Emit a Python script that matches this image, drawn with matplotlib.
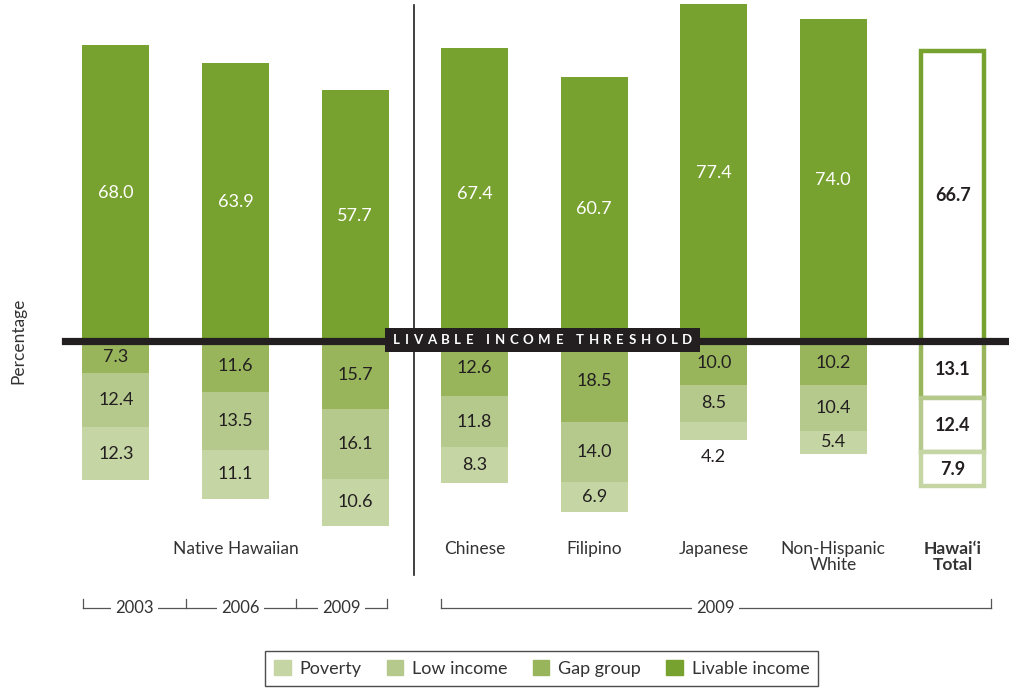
import matplotlib.pyplot as plt
from matplotlib.patches import Patch, Rectangle

plt.rcParams['font.family'] = ['Lato', 'DejaVu Sans']

# Data (percentages)
groups = ["Native Hawaiian 2003", "Native Hawaiian 2006", "Native Hawaiian 2009",
          "Chinese", "Filipino", "Japanese", "Non-Hispanic White", "Hawai\u2018i Total"]
livable = [68.0, 63.9, 57.7, 67.4, 60.7, 77.4, 74.0, 66.7]
gap = [7.3, 11.6, 15.7, 12.6, 18.5, 10.0, 10.2, 13.1]
low_income = [12.4, 13.5, 16.1, 11.8, 14.0, 8.5, 10.4, 12.4]
poverty = [12.3, 11.1, 10.6, 8.3, 6.9, 4.2, 5.4, 7.9]

cat_labels = ["", "Native Hawaiian", "", "Chinese", "Filipino", "Japanese",
              "Non-Hispanic\nWhite", "Hawai\u2018i\nTotal"]
nh_years = ["2003", "2006", "2009"]
other_year = "2009"
threshold_label = "LIVABLE INCOME THRESHOLD"

c_pov = "#c5d5a3"
c_low = "#b5c98d"
c_gap = "#98b55c"
c_liv = "#78a22f"
dark = "#231f20"

fig = plt.figure(figsize=(10.09, 6.93), dpi=100)
ax = fig.add_axes([0, 0, 1, 1])
ax.set_xlim(-0.97, 7.47)
ax.set_ylim(-80.9, 78.4)
ax.axis("off")

w = 0.56
x = list(range(len(groups)))
n_fill = len(groups) - 1  # last one (total) is drawn as outlines

for i in x:
    segs = [(0, livable[i], c_liv),
            (0, -gap[i], c_gap),
            (-gap[i], -low_income[i], c_low),
            (-gap[i] - low_income[i], -poverty[i], c_pov)]
    for bottom, h, col in segs:
        if i < n_fill:
            ax.bar(i, h, bottom=bottom, width=w, color=col, zorder=2)
        else:
            ax.bar(i, h, bottom=bottom, width=w - 0.03, facecolor="white",
                   edgecolor=col, linewidth=3.2, zorder=2)

    bold = "bold" if i == n_fill else "normal"
    ax.text(i, livable[i] / 2, f"{livable[i]:.1f}", ha="center", va="center",
            fontsize=13, color=dark if i == n_fill else "white", fontweight=bold, zorder=4)
    base = 0
    for v in (gap[i], low_income[i], poverty[i]):
        ypos = base - v / 2 if v >= 5 else base - v - 4
        ax.text(i, ypos, f"{v:.1f}", ha="center", va="center",
                fontsize=13, color=dark, fontweight=bold, zorder=4)
        base -= v

# threshold line + label box
ax.axhline(0, xmin=65 / 1009, xmax=1, color=dark, linewidth=5.2, zorder=3)
ax.add_patch(Rectangle((2.249, -2.53), 4.883 - 2.249, 2.99 + 2.53,
                       facecolor=dark, edgecolor="none", zorder=5))

# tracked capitals: measure each glyph, then add constant spacing
renderer = fig.canvas.get_renderer()
xc = 3.57
track = 4.6  # px added after each glyph
letters = []
widths = []
for ch in threshold_label:
    t = ax.annotate(ch if ch != " " else "I", (xc, 0.2), xytext=(0, 0),
                    textcoords="offset points", ha="left", va="center",
                    fontsize=9.5, color="white", fontweight="bold", zorder=6)
    wpx = t.get_window_extent(renderer).width
    if ch == " ":
        t.remove()
        wpx = 3.5
        t = None
    letters.append(t)
    widths.append(wpx)
total = sum(widths) + track * (len(widths) - 1)
pos = -total / 2
for t, wpx in zip(letters, widths):
    if t is not None:
        t.xyann = (pos * 72 / fig.dpi, 0)
    pos += wpx + track

# divider
ax.plot([2.49, 2.49], [77.2, -53.8], color=dark, linewidth=1.2, zorder=1)

# category labels
for i, lab in enumerate(cat_labels):
    if lab:
        ax.text(i, -46.0, lab, ha="center", va="top", fontsize=12.5, color="#333333",
                fontweight="bold" if i == n_fill else "normal", linespacing=1.0)

# year brackets
yb, yt = -61.4, -59.2
nh_edges = [-0.276, 0.585, 1.505, 2.266]
ax.plot([nh_edges[0], nh_edges[-1]], [yb, yb], color="#555555", linewidth=0.9)
for e in nh_edges:
    ax.plot([e, e], [yb, yt], color="#555555", linewidth=0.9)
for k, yr in enumerate(nh_years):
    ax.text((nh_edges[k] + nh_edges[k + 1]) / 2, yb, yr, ha="center", va="center",
            fontsize=12, color="#333333",
            bbox=dict(facecolor="white", edgecolor="none", pad=3))
oe = [2.717, 7.316]
ax.plot(oe, [yb, yb], color="#555555", linewidth=0.9)
for e in oe:
    ax.plot([e, e], [yb, yt], color="#555555", linewidth=0.9)
ax.text(sum(oe) / 2, yb, other_year, ha="center", va="center", fontsize=12,
        color="#333333", bbox=dict(facecolor="white", edgecolor="none", pad=3))

# y label
fig.text(18 / 1009, 1 - 341 / 693, "Percentage", rotation=90, ha="center", va="center",
         fontsize=12.5, color="#333333")

# legend
handles = [Patch(color=c_pov, label="Poverty"), Patch(color=c_low, label="Low income"),
           Patch(color=c_gap, label="Gap group"), Patch(color=c_liv, label="Livable income")]
leg = fig.legend(handles=handles, ncol=4, loc="center", bbox_to_anchor=(0.537, 0.035),
                 frameon=True, fancybox=False, edgecolor=dark, fontsize=13,
                 handlelength=0.9, handleheight=0.9, columnspacing=1.4, handletextpad=0.5,
                 borderpad=0.5, borderaxespad=0)
leg.get_frame().set_linewidth(1.0)
for t in leg.get_texts():
    t.set_color("#333333")

fig.savefig("out.png", dpi=100, facecolor="white")
